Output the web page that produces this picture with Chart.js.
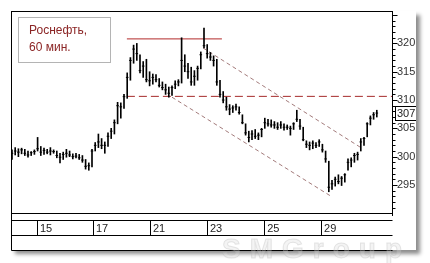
<!DOCTYPE html>
<html lang="ru">
<head>
<meta charset="UTF-8">
<title>Роснефть, 60 мин.</title>
<script src="https://cdn.jsdelivr.net/npm/chart.js"></script>
<style>
    html, body { margin: 0; padding: 0; background: #fff; }
    #wrap { width: 430px; height: 263px; }
</style>
</head>
<body>
<div id="wrap"><canvas id="grafico" width="430" height="263"></canvas></div>
<script>
// hourly bars: high / low / close
const highs = [
    301.2, 301.6, 301.4, 301.5, 301.3, 301.0, 300.9, 301.2, 303.4, 301.8,
    301.5, 301.3, 301.6, 301.2, 301.0, 300.6, 300.8, 301.3, 301.0, 300.5,
    300.6, 300.4, 300.2, 299.5, 298.9, 301.3, 302.5, 304.0, 303.2, 302.6,
    304.2, 305.0, 306.5, 309.6, 309.5, 311.0, 314.8, 317.5, 319.7, 320.0,
    318.0, 316.8, 317.2, 315.0, 314.6, 314.5, 313.8, 313.2, 312.8, 312.3,
    312.5, 313.4, 313.6, 321.0, 318.0, 316.5, 315.8, 315.2, 316.0, 318.5,
    322.7, 319.8, 318.4, 317.8, 317.2, 313.5, 311.5, 310.5, 309.2, 309.0,
    309.3, 308.8, 307.4, 305.8, 304.5, 304.6, 304.8, 304.2, 305.0, 306.8,
    306.6, 306.5, 306.2, 306.0, 306.2, 305.8, 305.6, 305.4, 306.0, 308.2,
    306.6, 305.2, 302.8, 302.6, 302.8, 302.5, 303.0, 302.2, 301.0, 299.2,
    295.8, 296.4, 296.8, 296.5, 297.0, 299.6, 299.8, 300.6, 300.8, 303.2,
    303.4, 306.0, 307.2, 307.8, 308.2
];
const lows = [
    299.5, 300.3, 300.0, 300.5, 300.2, 299.9, 300.2, 300.4, 301.0, 300.2,
    300.4, 300.5, 300.3, 300.6, 299.8, 298.9, 299.5, 299.9, 300.0, 299.6,
    299.8, 299.5, 299.0, 297.8, 297.6, 298.2, 301.0, 301.6, 301.4, 300.6,
    301.8, 303.2, 304.0, 305.8, 306.8, 308.5, 310.3, 313.5, 316.5, 317.0,
    314.8, 314.0, 313.2, 312.5, 312.8, 313.2, 312.3, 311.8, 311.0, 310.5,
    310.8, 312.0, 312.5, 313.0, 315.0, 313.8, 312.6, 312.6, 313.5, 315.5,
    319.2, 317.4, 317.0, 316.0, 312.6, 310.5, 309.5, 308.2, 307.4, 307.8,
    308.2, 307.5, 305.8, 303.8, 302.6, 303.0, 303.2, 303.0, 303.5, 305.0,
    305.4, 305.2, 305.0, 304.8, 305.0, 304.7, 304.8, 303.8, 304.8, 306.2,
    304.8, 302.8, 301.6, 301.2, 301.4, 301.6, 301.8, 300.8, 299.0, 293.8,
    294.2, 294.8, 295.2, 294.9, 295.5, 297.6, 298.2, 299.0, 299.4, 301.0,
    302.0, 303.5, 305.6, 306.6, 307.0
];
const closes = [
    300.6, 301.0, 300.8, 301.2, 300.6, 300.3, 300.7, 300.9, 301.4, 300.8,
    301.1, 300.8, 301.0, 300.9, 300.2, 299.9, 300.4, 300.6, 300.3, 300.0,
    300.1, 299.8, 299.4, 298.3, 298.4, 301.0, 302.0, 302.6, 302.0, 302.0,
    303.6, 304.5, 306.0, 309.0, 308.8, 310.6, 314.0, 317.0, 319.0, 318.2,
    315.2, 316.0, 313.6, 313.4, 314.0, 313.6, 312.6, 312.2, 311.8, 311.2,
    312.2, 312.8, 313.2, 317.0, 316.0, 315.0, 313.2, 314.2, 315.6, 318.0,
    319.6, 318.2, 317.6, 317.0, 313.2, 311.0, 310.0, 308.8, 308.4, 308.6,
    308.8, 307.8, 306.0, 304.2, 303.4, 304.0, 303.6, 303.8, 304.8, 306.0,
    305.8, 305.6, 305.6, 305.2, 305.6, 305.2, 305.2, 305.0, 305.8, 306.6,
    305.4, 303.0, 302.2, 302.0, 302.4, 302.0, 302.6, 301.2, 299.6, 294.6,
    295.2, 296.0, 295.6, 296.2, 296.8, 299.0, 299.4, 300.2, 300.4, 302.6,
    303.2, 305.8, 306.8, 307.4, 307.7
];

// date axis
const dayTicks = [7.8, 25.3, 43.1, 60.9, 78.8, 96.6];
const dayLabels = ["15", "17", "21", "23", "25", "29"];

// drawn levels and channel (bar index, price)
const resistX = [35.9, 65.6],  resistY = [320.8, 320.8];
const supportX = [35.9, 118.75], supportY = [310.65, 310.65];
const upperX = [59.7, 108.75], upperY = [319.2, 301.7];
const lowerX = [50.0, 100.0],  lowerY = [310.5, 292.9];

const xMax = 118.75;
const yMin = 290.05, yMax = 325.55;

const bars = highs.map((h, i) => ({ x: i, y: [lows[i], h] }));
const closePts = closes.map((c, i) => ({ x: i, y: c }));
const seg = (xs, ys) => xs.map((v, i) => ({ x: v, y: ys[i] }));

const PANEL_R = 416, PANEL_B = 250;

function panelShadow(ctx) {
    ctx.save();
    ctx.shadowColor = 'rgba(0,0,0,0.45)';
    ctx.shadowBlur = 4;
    ctx.shadowOffsetX = 4;
    ctx.shadowOffsetY = 4;
    ctx.fillStyle = '#fff';
    ctx.fillRect(11, 11, PANEL_R - 11, PANEL_B - 11);
    ctx.restore();
}

const frame = {
    id: 'frame',
    beforeDraw(chart) {
        const { ctx, chartArea: a, scales: { x, y } } = chart;
        ctx.save();
        ctx.fillStyle = '#fff';
        ctx.fillRect(0, 0, chart.width, chart.height);
        ctx.restore();
        panelShadow(ctx);

        ctx.save();
        ctx.strokeStyle = '#000';
        ctx.lineWidth = 1;
        const line = (x1, y1, x2, y2) => {
            ctx.beginPath(); ctx.moveTo(x1, y1); ctx.lineTo(x2, y2); ctx.stroke();
        };
        const L = a.left - 0.5, R = a.right + 0.5;
        line(L, a.top - 0.5, R + 0.5, a.top - 0.5);        // top
        line(L, a.top - 1, L, PANEL_B + 0.5);               // left
        line(L, a.bottom + 0.5, R, a.bottom + 0.5);         // plot bottom
        line(R, a.top - 1, R, a.bottom + 3);                // price axis
        line(L, 220.5, R, 220.5);                           // date band
        line(L, 235.5, R, 235.5);
        line(L, PANEL_B + 0.5, R, PANEL_B + 0.5);

        // price axis ticks
        for (let v = Math.ceil(yMin); v <= Math.floor(yMax); v++) {
            const py = Math.round(y.getPixelForValue(v)) + 0.5;
            line(R, py, R + (v % 5 === 0 ? 5 : 3), py);
        }
        // day separators
        dayTicks.forEach(t => {
            const px = Math.round(x.getPixelForValue(t)) + 0.5;
            line(px, 220.5, px, 235.5);
        });
        ctx.restore();
    },
    afterDraw(chart) {
        const { ctx, scales: { y } } = chart;
        // last price box
        const last = closes[closes.length - 1];
        const py = Math.round(y.getPixelForValue(last));
        ctx.save();
        ctx.fillStyle = '#fff';
        ctx.fillRect(395.5, py - 6.5, 30, 14);
        ctx.strokeStyle = '#000';
        ctx.strokeRect(395.5, py - 6.5, 30, 14);
        ctx.fillStyle = '#222';
        ctx.font = '11px Arial';
        ctx.textBaseline = 'middle';
        ctx.fillText(last.toFixed(1), 397, py + 1);
        ctx.restore();

        // cut off everything right of the panel and redo its shadow
        ctx.save();
        ctx.beginPath();
        ctx.rect(PANEL_R, 0, chart.width - PANEL_R, chart.height);
        ctx.clip();
        ctx.fillStyle = '#fff';
        ctx.fillRect(PANEL_R, 0, chart.width - PANEL_R, chart.height);
        panelShadow(ctx);
        ctx.restore();

        // title box
        ctx.save();
        ctx.fillStyle = '#fff';
        ctx.fillRect(18.5, 17.5, 92, 45);
        ctx.strokeStyle = '#b4b4b4';
        ctx.lineWidth = 1;
        ctx.strokeRect(18.5, 17.5, 92, 45);
        ctx.fillStyle = '#8b2525';
        ctx.font = '12px Arial';
        ctx.textBaseline = 'alphabetic';
        ctx.fillText('Роснефть,', 29, 34);
        ctx.fillText('60 мин.', 29, 51);
        ctx.restore();

        // watermark
        ctx.save();
        ctx.font = 'bold 28px Arial';
        ctx.letterSpacing = '9px';
        ctx.textBaseline = 'alphabetic';
        ctx.fillStyle = 'rgba(220,220,220,0.3)';
        ctx.strokeStyle = 'rgba(175,175,175,0.3)';
        ctx.lineWidth = 1;
        ctx.fillText('SMGroup', 222, 258);
        ctx.strokeText('SMGroup', 222, 258);
        ctx.restore();
    }
};

new Chart(document.getElementById('grafico').getContext('2d'), {
    type: 'bar',
    data: {
        datasets: [
            {
                type: 'bar',
                data: bars,
                backgroundColor: '#000',
                borderWidth: 0,
                barThickness: 1,
                grouped: false
            },
            {
                type: 'scatter',
                data: closePts,
                pointStyle: 'line',
                pointRadius: 1.3,
                borderColor: '#000',
                borderWidth: 1
            },
            {
                type: 'line',
                data: seg(resistX, resistY),
                borderColor: '#b22a2a',
                borderWidth: 1,
                pointRadius: 0
            },
            {
                type: 'line',
                data: seg(supportX, supportY),
                borderColor: '#a52a2a',
                borderWidth: 1,
                borderDash: [8, 4],
                pointRadius: 0
            },
            {
                type: 'line',
                data: seg(upperX, upperY),
                borderColor: 'rgba(140,90,90,0.8)',
                borderWidth: 1,
                borderDash: [4, 3],
                pointRadius: 0
            },
            {
                type: 'line',
                data: seg(lowerX, lowerY),
                borderColor: 'rgba(140,90,90,0.8)',
                borderWidth: 1,
                borderDash: [4, 3],
                pointRadius: 0
            }
        ]
    },
    options: {
        responsive: false,
        animation: false,
        devicePixelRatio: 1,
        layout: { padding: { left: 12, top: 12, right: 0, bottom: 0 } },
        plugins: {
            legend: { display: false },
            tooltip: { enabled: false }
        },
        scales: {
            x: {
                type: 'linear',
                min: 0,
                max: xMax,
                offset: false,
                grid: { display: false, drawTicks: false },
                border: { display: false },
                afterBuildTicks: s => { s.ticks = dayTicks.map(v => ({ value: v })); },
                afterFit: s => { s.height = 50; },
                ticks: {
                    autoSkip: false,
                    maxRotation: 0,
                    align: 'start',
                    labelOffset: 3,
                    padding: 9,
                    color: '#222',
                    font: { family: 'Arial', size: 11 },
                    callback: (v, i) => dayLabels[i]
                }
            },
            y: {
                position: 'right',
                min: yMin,
                max: yMax,
                grid: { display: false, drawTicks: false },
                border: { display: false },
                afterFit: s => { s.width = 38; },
                ticks: {
                    stepSize: 1,
                    autoSkip: false,
                    padding: 5,
                    color: '#333',
                    font: { family: 'Arial', size: 11 },
                    callback: v => (Math.abs(v % 5) < 1e-6 ? String(v) : '')
                }
            }
        }
    },
    plugins: [frame]
});
</script>
</body>
</html>
